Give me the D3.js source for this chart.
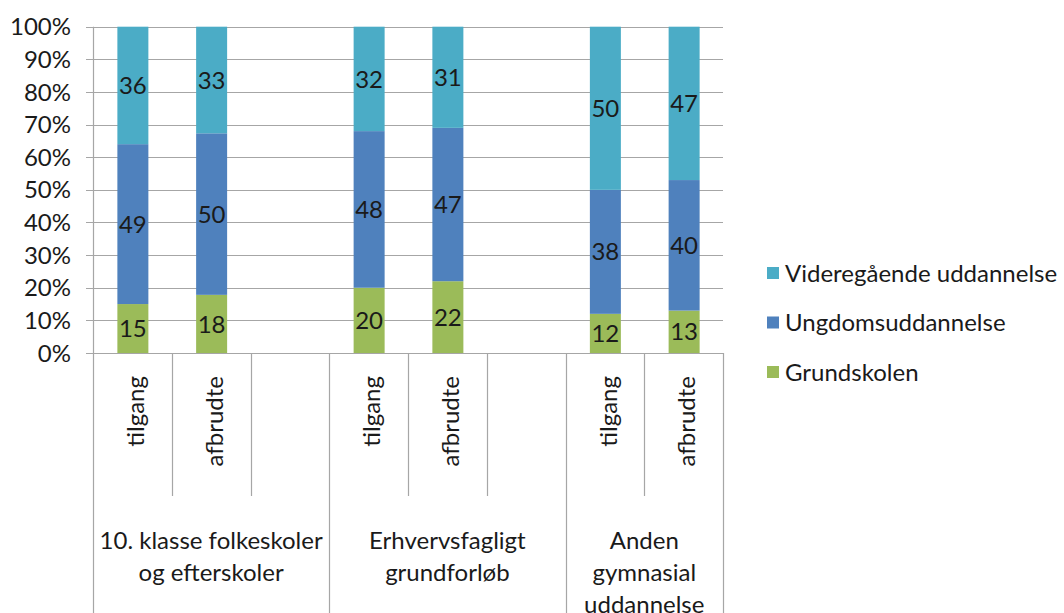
<!DOCTYPE html>
<html><head><meta charset="utf-8">
<script src="https://cdn.jsdelivr.net/npm/d3@7"></script>
<style>body{margin:0;background:#fff}svg{display:block}text{font-family:Lato,"Open Sans",sans-serif;fill:#1a1a1a}</style>
</head><body><svg id="c" width="1064" height="613"></svg>
<script>
const slotIds = ["g1a","g1b","g1c","g2a","g2b","g2c","g3a","g3b"];
const slotLabels = ["tilgang","afbrudte","","tilgang","afbrudte","","tilgang","afbrudte"];
const groupNames = [["10. klasse folkeskoler","og efterskoler"],["Erhvervsfagligt","grundforløb"],["Anden","gymnasial","uddannelse"]];
const groupSlots = [[0,3],[3,6],[6,8]];
const seriesNames = ["Grundskolen","Ungdomsuddannelse","Videregående uddannelse"];
const grundskolen = [15,18,null,20,22,null,12,13];
const ungdom = [49,50,null,48,47,null,38,40];
const videre = [36,33,null,32,31,null,50,47];
const colors = ["#9BBB59","#4F81BD","#4BACC6"];
const yTicks = [0,0.1,0.2,0.3,0.4,0.5,0.6,0.7,0.8,0.9,1];

const svg = d3.select("#c");
const L=93,R=723,T=26.7,B=353;
const x = d3.scaleBand().domain(slotIds).range([L,R]);
const y = d3.scaleLinear().domain([0,1]).range([B,T]);
const fs = 24;

// grid
svg.append("g").selectAll("line").data(yTicks).join("line")
  .attr("x1",L-7).attr("x2",R).attr("y1",d=>Math.round(y(d))+0.5).attr("y2",d=>Math.round(y(d))+0.5)
  .attr("stroke","#a6a6a6").attr("stroke-width",1.2);
svg.append("g").selectAll("text").data(yTicks).join("text")
  .attr("x",71).attr("y",d=>y(d)).attr("dy","0.36em").attr("text-anchor","end")
  .attr("font-size",fs).text(d3.format(".0%"));

// stacked data
const rows = slotIds.map((id,i)=>({id, Grundskolen:grundskolen[i], Ungdomsuddannelse:ungdom[i], "Videregående uddannelse":videre[i]}))
  .filter(r=>r.Grundskolen!=null);
const stack = d3.stack().keys(seriesNames).offset(d3.stackOffsetExpand);
const layers = stack(rows);
const bw = 31;
layers.forEach((layer,k)=>{
  const g = svg.append("g");
  g.selectAll("rect").data(layer).join("rect")
    .attr("x",d=>x(d.data.id)+x.bandwidth()/2-bw/2+0.5).attr("width",bw)
    .attr("y",d=>y(d[1])).attr("height",d=>y(d[0])-y(d[1]))
    .attr("fill",colors[k]);
  g.selectAll("text").data(layer).join("text")
    .attr("x",d=>x(d.data.id)+x.bandwidth()/2+0.5).attr("y",d=>(y(d[0])+y(d[1]))/2)
    .attr("dy","0.36em").attr("text-anchor","middle").attr("font-size",fs)
    .text(d=>d.data[seriesNames[k]]);
});

// axes lines
const ax = svg.append("g").attr("stroke","#a6a6a6").attr("stroke-width",1.2);
ax.append("line").attr("x1",L+0.5).attr("x2",L+0.5).attr("y1",T).attr("y2",613);
ax.append("line").attr("x1",L-7).attr("x2",R).attr("y1",Math.round(B)+0.5).attr("y2",Math.round(B)+0.5);
// category separators
slotIds.forEach((id,i)=>{
  if(i===0) return;
  const xx = Math.round(x(id))+0.5;
  const isGroup = groupSlots.some(g=>g[0]===i);
  ax.append("line").attr("x1",xx).attr("x2",xx).attr("y1",B).attr("y2",isGroup?613:496);
});
ax.append("line").attr("x1",R+0.5).attr("x2",R+0.5).attr("y1",B).attr("y2",613);

// slot labels
svg.append("g").selectAll("text").data(slotIds).join("text")
  .attr("transform",d=>`translate(${x(d)+x.bandwidth()/2+3},376) rotate(-90)`)
  .attr("text-anchor","end").attr("dy","0.36em").attr("font-size",fs)
  .text((d,i)=>slotLabels[i]);

// group labels
groupNames.forEach((lines,gi)=>{
  const [a,b] = groupSlots[gi];
  const cx = (x(slotIds[a]) + (b<slotIds.length? x(slotIds[b]) : R))/2;
  const t = svg.append("text").attr("text-anchor","middle").attr("font-size",fs);
  lines.forEach((ln,li)=>t.append("tspan").attr("x",cx).attr("y",540+li*32).attr("dy","0.36em").text(ln));
});

// legend
const legendOrder = [2,1,0];
const lg = svg.append("g");
legendOrder.forEach((k,i)=>{
  const cy = 273 + i*49.5;
  lg.append("rect").attr("x",767).attr("y",cy-6).attr("width",12).attr("height",12).attr("fill",colors[k]);
  lg.append("text").attr("x",785).attr("y",cy).attr("dy","0.36em").attr("font-size",fs).text(seriesNames[k]);
});
</script></body></html>
